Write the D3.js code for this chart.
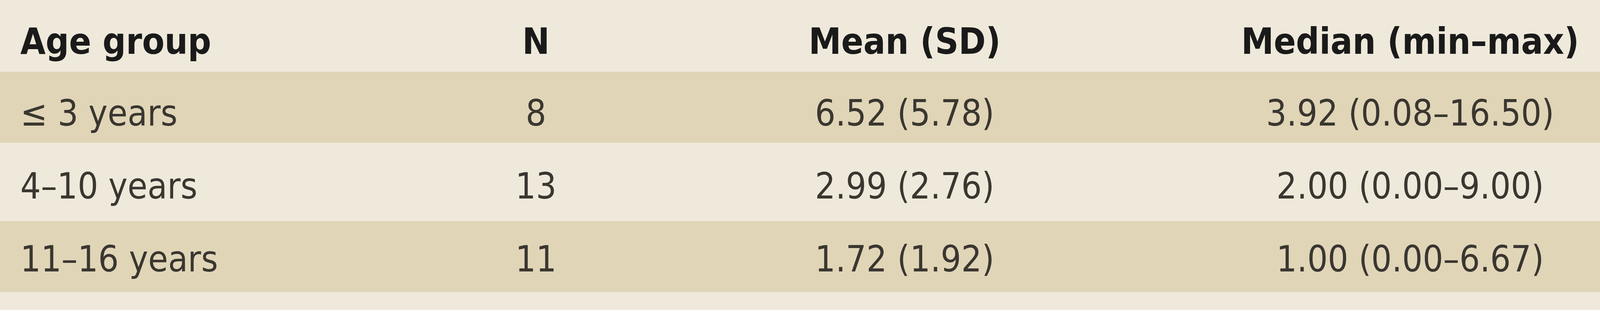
<!DOCTYPE html>
<html><head><meta charset="utf-8">
<script src="https://cdn.jsdelivr.net/npm/d3@7"></script>
<style>body{margin:0;background:#fff}</style></head>
<body><script>
const headers = ["Age group", "N", "Mean (SD)", "Median (min–max)"];
const ageGroups = ["≤ 3 years", "4–10 years", "11–16 years"];
const nValues = ["8", "13", "11"];
const meanSD = ["6.52 (5.78)", "2.99 (2.76)", "1.72 (1.92)"];
const medianRange = ["3.92 (0.08–16.50)", "2.00 (0.00–9.00)", "1.00 (0.00–6.67)"];

const W = 4270, H = 800;
const svg = d3.select("body").append("svg").attr("width", W).attr("height", H);
const font = "'Liberation Sans Narrow','DejaVu Sans Condensed','Roboto',sans-serif";
svg.append("rect").attr("width", W).attr("height", 795).attr("fill", "#efe9db");

const rowKeys = ["header", ...ageGroups];
const rowTop = d3.scaleOrdinal().domain(rowKeys).range([0, 184, 376, 567]);
const rowH = 182;
ageGroups.forEach((g, i) => {
  if (i % 2 === 0) svg.append("rect").attr("x", 0).attr("y", rowTop(g)).attr("width", W)
    .attr("height", rowH).attr("fill", "#e0d5b7");
});
const colX = d3.scaleOrdinal().domain(headers).range([52, 1372, 2316, 3610]);
const anchors = ["start", "middle", "middle", "middle"];
const base = d3.scaleOrdinal().domain(rowKeys).range([138, 322, 509, 696]);

svg.selectAll("text.h").data(headers).join("text")
  .attr("x", d => colX(d)).attr("y", base("header"))
  .attr("text-anchor", (d, i) => anchors[i])
  .attr("font-family", font).attr("font-weight", "bold").attr("font-size", 93)
  .attr("fill", "#1a1a1a").text(d => d);

const rows = ageGroups.map((g, i) => [g, nValues[i], meanSD[i], medianRange[i]]);
rows.forEach((r, ri) => {
  r.forEach((t, ci) => {
    svg.append("text").attr("x", colX(headers[ci])).attr("y", base(ageGroups[ri]))
      .attr("text-anchor", anchors[ci]).attr("font-family", font).attr("font-size", 92)
      .attr("fill", "#3a3630").text(t);
  });
});
</script></body></html>
